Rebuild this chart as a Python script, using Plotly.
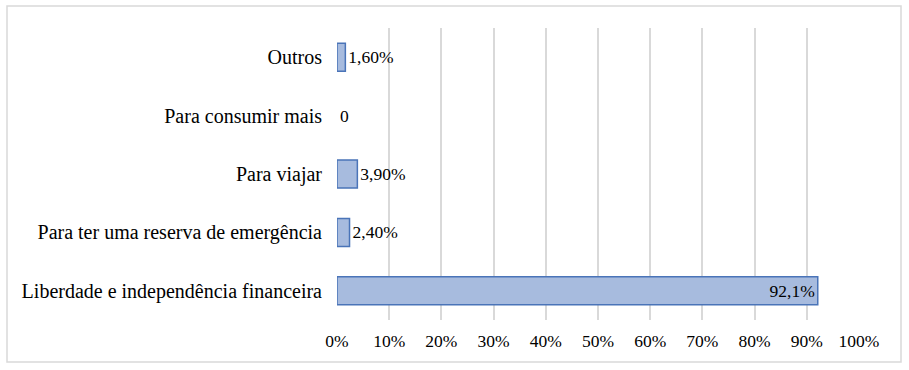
import plotly.graph_objects as go

categories = ["Liberdade e independência financeira", "Para ter uma reserva de emergência",
              "Para viajar", "Para consumir mais", "Outros"]
values = [92.1, 2.4, 3.9, 0, 1.6]
labels = ["92,1%", "2,40%", "3,90%", "0", "1,60%"]
tick_vals = [0, 10, 20, 30, 40, 50, 60, 70, 80, 90, 100]
tick_text = [f"{v}%" for v in tick_vals]

positions = ["inside" if v > 50 else "outside" for v in values]
line_widths = [1.5 if v > 0 else 0 for v in values]

FONT = "Liberation Serif"
FS = 17.5

fig = go.Figure(go.Bar(
    y=categories, x=values, orientation="h",
    text=labels, textposition=positions, insidetextanchor="end",
    textfont=dict(family=FONT, size=FS, color="black"),
    outsidetextfont=dict(family=FONT, size=FS, color="black"),
    insidetextfont=dict(family=FONT, size=FS, color="black"),
    cliponaxis=False,
    marker=dict(color="#a7bbde", line=dict(color="#4a74b8", width=line_widths)),
))

fig.update_layout(
    width=909, height=370,
    margin=dict(l=337, r=50, t=28, b=50),
    paper_bgcolor="white", plot_bgcolor="white",
    font=dict(family=FONT, size=FS, color="black"),
    bargap=0.52, showlegend=False,
    xaxis=dict(range=[0, 100], tickvals=tick_vals, ticktext=tick_text,
               showgrid=True, gridcolor="#d9d9d9", gridwidth=1.5,
               zeroline=False, showline=False,
               ticks="outside", ticklen=5, tickcolor="rgba(0,0,0,0)"),
    yaxis=dict(showgrid=False, zeroline=False, showline=False,
               tickfont=dict(family=FONT, size=20, color="black"),
               ticks="outside", ticklen=10, tickcolor="rgba(0,0,0,0)"),
    shapes=[dict(type="rect", xref="paper", yref="paper",
                 x0=(7 - 337) / 522, x1=(901 - 337) / 522,
                 y0=-(362 - 320) / 292, y1=1 + (28 - 6) / 292,
                 line=dict(color="#d9d9d9", width=1.5), fillcolor="rgba(0,0,0,0)",
                 layer="below")],
)

fig.write_html("out.html", config={"displayModeBar": False},
               post_script="document.body.style.margin='0';document.body.style.overflow='hidden';")
